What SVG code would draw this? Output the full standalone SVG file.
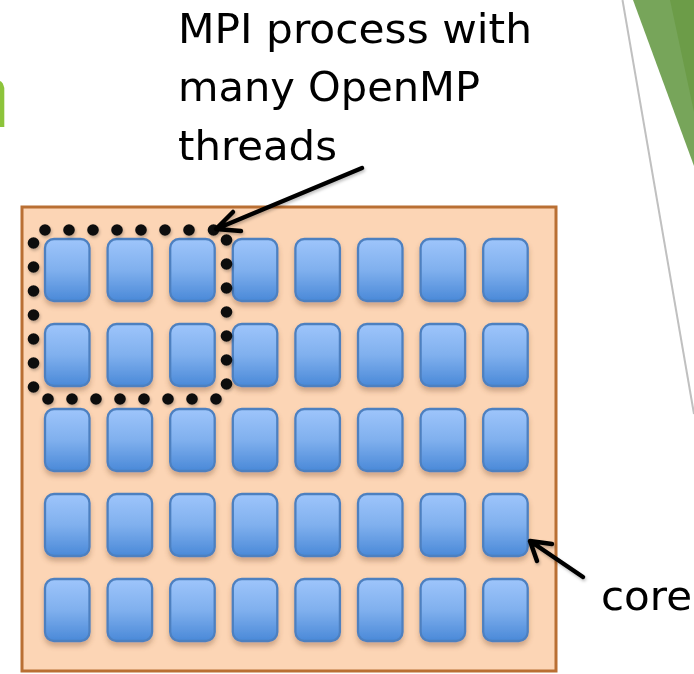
<svg xmlns="http://www.w3.org/2000/svg" xmlns:xlink="http://www.w3.org/1999/xlink" width="694" height="674" viewBox="0 0 694 674">
  <defs>
    <linearGradient id="coreGrad" x1="0" y1="0" x2="0" y2="1">
      <stop offset="0" stop-color="#9ec5fb"/>
      <stop offset="0.5" stop-color="#80b0ee"/>
      <stop offset="1" stop-color="#4a89d8"/>
    </linearGradient>
    <filter id="coreShadow" x="-30%" y="-20%" width="160%" height="150%">
      <feDropShadow dx="0" dy="4" stdDeviation="2.5" flood-color="#7a5030" flood-opacity="0.35"/>
    </filter>
    <filter id="lineShadow" x="-20%" y="-20%" width="140%" height="140%">
      <feDropShadow dx="1" dy="2" stdDeviation="1.5" flood-color="#000" flood-opacity="0.25"/>
    </filter>
    <rect id="core" x="1" y="1" width="44.5" height="62" rx="9" ry="9"/>
  </defs>
  <style>
    .label { font-family: "DejaVu Sans", "Liberation Sans", sans-serif; font-size: 41px; fill: #000; }
    .core { fill: url(#coreGrad); stroke: #4d80c0; stroke-width: 2.3; }
    .dot { fill: #111; }
    .arrow { fill: none; stroke: #000; stroke-width: 4.5; stroke-linecap: round; stroke-linejoin: round; }
  </style>

  <!-- background decorations -->
  <path d="M0,81 Q3,82 4.3,88 L4.3,127 L0,127 Z" fill="#8dc43b"/>
  <polygon points="633,0 694,0 694,166" fill="#77a55a"/>
  <polygon points="670,0 694,0 694,112" fill="#6c9c48"/>
  <line x1="622.5" y1="0" x2="694" y2="414" stroke="#c0c0c0" stroke-width="2"/>

  <!-- processor box -->
  <g id="processor">
    <rect x="22" y="207" width="534" height="464" fill="#fcd5b5" stroke="#b96f33" stroke-width="3"/>
  </g>

  <!-- cores -->
  <g id="cores" filter="url(#coreShadow)">
    <g id="core-r1c1" transform="translate(44,238)"><use xlink:href="#core" class="core"/></g>
    <g id="core-r1c2" transform="translate(106.6,238)"><use xlink:href="#core" class="core"/></g>
    <g id="core-r1c3" transform="translate(169.2,238)"><use xlink:href="#core" class="core"/></g>
    <g id="core-r1c4" transform="translate(231.8,238)"><use xlink:href="#core" class="core"/></g>
    <g id="core-r1c5" transform="translate(294.4,238)"><use xlink:href="#core" class="core"/></g>
    <g id="core-r1c6" transform="translate(357,238)"><use xlink:href="#core" class="core"/></g>
    <g id="core-r1c7" transform="translate(419.6,238)"><use xlink:href="#core" class="core"/></g>
    <g id="core-r1c8" transform="translate(482.2,238)"><use xlink:href="#core" class="core"/></g>

    <g id="core-r2c1" transform="translate(44,323)"><use xlink:href="#core" class="core"/></g>
    <g id="core-r2c2" transform="translate(106.6,323)"><use xlink:href="#core" class="core"/></g>
    <g id="core-r2c3" transform="translate(169.2,323)"><use xlink:href="#core" class="core"/></g>
    <g id="core-r2c4" transform="translate(231.8,323)"><use xlink:href="#core" class="core"/></g>
    <g id="core-r2c5" transform="translate(294.4,323)"><use xlink:href="#core" class="core"/></g>
    <g id="core-r2c6" transform="translate(357,323)"><use xlink:href="#core" class="core"/></g>
    <g id="core-r2c7" transform="translate(419.6,323)"><use xlink:href="#core" class="core"/></g>
    <g id="core-r2c8" transform="translate(482.2,323)"><use xlink:href="#core" class="core"/></g>

    <g id="core-r3c1" transform="translate(44,408)"><use xlink:href="#core" class="core"/></g>
    <g id="core-r3c2" transform="translate(106.6,408)"><use xlink:href="#core" class="core"/></g>
    <g id="core-r3c3" transform="translate(169.2,408)"><use xlink:href="#core" class="core"/></g>
    <g id="core-r3c4" transform="translate(231.8,408)"><use xlink:href="#core" class="core"/></g>
    <g id="core-r3c5" transform="translate(294.4,408)"><use xlink:href="#core" class="core"/></g>
    <g id="core-r3c6" transform="translate(357,408)"><use xlink:href="#core" class="core"/></g>
    <g id="core-r3c7" transform="translate(419.6,408)"><use xlink:href="#core" class="core"/></g>
    <g id="core-r3c8" transform="translate(482.2,408)"><use xlink:href="#core" class="core"/></g>

    <g id="core-r4c1" transform="translate(44,493)"><use xlink:href="#core" class="core"/></g>
    <g id="core-r4c2" transform="translate(106.6,493)"><use xlink:href="#core" class="core"/></g>
    <g id="core-r4c3" transform="translate(169.2,493)"><use xlink:href="#core" class="core"/></g>
    <g id="core-r4c4" transform="translate(231.8,493)"><use xlink:href="#core" class="core"/></g>
    <g id="core-r4c5" transform="translate(294.4,493)"><use xlink:href="#core" class="core"/></g>
    <g id="core-r4c6" transform="translate(357,493)"><use xlink:href="#core" class="core"/></g>
    <g id="core-r4c7" transform="translate(419.6,493)"><use xlink:href="#core" class="core"/></g>
    <g id="core-r4c8" transform="translate(482.2,493)"><use xlink:href="#core" class="core"/></g>

    <g id="core-r5c1" transform="translate(44,578)"><use xlink:href="#core" class="core"/></g>
    <g id="core-r5c2" transform="translate(106.6,578)"><use xlink:href="#core" class="core"/></g>
    <g id="core-r5c3" transform="translate(169.2,578)"><use xlink:href="#core" class="core"/></g>
    <g id="core-r5c4" transform="translate(231.8,578)"><use xlink:href="#core" class="core"/></g>
    <g id="core-r5c5" transform="translate(294.4,578)"><use xlink:href="#core" class="core"/></g>
    <g id="core-r5c6" transform="translate(357,578)"><use xlink:href="#core" class="core"/></g>
    <g id="core-r5c7" transform="translate(419.6,578)"><use xlink:href="#core" class="core"/></g>
    <g id="core-r5c8" transform="translate(482.2,578)"><use xlink:href="#core" class="core"/></g>
  </g>

  <!-- MPI process (dotted boundary) -->
  <g id="mpi-process" filter="url(#lineShadow)">
    <circle class="dot" cx="45" cy="230" r="5.8"/>
    <circle class="dot" cx="69" cy="230" r="5.8"/>
    <circle class="dot" cx="93" cy="230" r="5.8"/>
    <circle class="dot" cx="117" cy="230" r="5.8"/>
    <circle class="dot" cx="141" cy="230" r="5.8"/>
    <circle class="dot" cx="165" cy="230" r="5.8"/>
    <circle class="dot" cx="189" cy="230" r="5.8"/>
    <circle class="dot" cx="213.5" cy="230" r="5.8"/>

    <circle class="dot" cx="33.5" cy="243" r="5.8"/>
    <circle class="dot" cx="33.5" cy="267" r="5.8"/>
    <circle class="dot" cx="33.5" cy="291" r="5.8"/>
    <circle class="dot" cx="33.5" cy="315" r="5.8"/>
    <circle class="dot" cx="33.5" cy="339" r="5.8"/>
    <circle class="dot" cx="33.5" cy="363" r="5.8"/>
    <circle class="dot" cx="33.5" cy="387" r="5.8"/>

    <circle class="dot" cx="48" cy="399" r="5.8"/>
    <circle class="dot" cx="72" cy="399" r="5.8"/>
    <circle class="dot" cx="96" cy="399" r="5.8"/>
    <circle class="dot" cx="120" cy="399" r="5.8"/>
    <circle class="dot" cx="144" cy="399" r="5.8"/>
    <circle class="dot" cx="168" cy="399" r="5.8"/>
    <circle class="dot" cx="192" cy="399" r="5.8"/>
    <circle class="dot" cx="216" cy="399" r="5.8"/>

    <circle class="dot" cx="226.5" cy="240" r="5.8"/>
    <circle class="dot" cx="226.5" cy="264" r="5.8"/>
    <circle class="dot" cx="226.5" cy="288" r="5.8"/>
    <circle class="dot" cx="226.5" cy="312" r="5.8"/>
    <circle class="dot" cx="226.5" cy="336" r="5.8"/>
    <circle class="dot" cx="226.5" cy="360" r="5.8"/>
    <circle class="dot" cx="226.5" cy="384" r="5.8"/>
  </g>

  <!-- labels -->
  <g id="label-mpi">
    <text class="label" x="178" y="43" textLength="354" lengthAdjust="spacingAndGlyphs">MPI process with</text>
    <text class="label" x="178" y="101" textLength="302" lengthAdjust="spacingAndGlyphs">many OpenMP</text>
    <text class="label" x="178" y="160" textLength="159" lengthAdjust="spacingAndGlyphs">threads</text>
  </g>
  <g id="label-core">
    <text class="label" x="601" y="610" textLength="91" lengthAdjust="spacingAndGlyphs">core</text>
  </g>

  <!-- connectors -->
  <g id="connectors" filter="url(#lineShadow)">
    <path class="arrow" d="M362,168 L216,229 M233,212 L216,229 L241,231"/>
    <path class="arrow" d="M583,577 L530,541 M552,544 L530,541 L537,561"/>
  </g>
</svg>
